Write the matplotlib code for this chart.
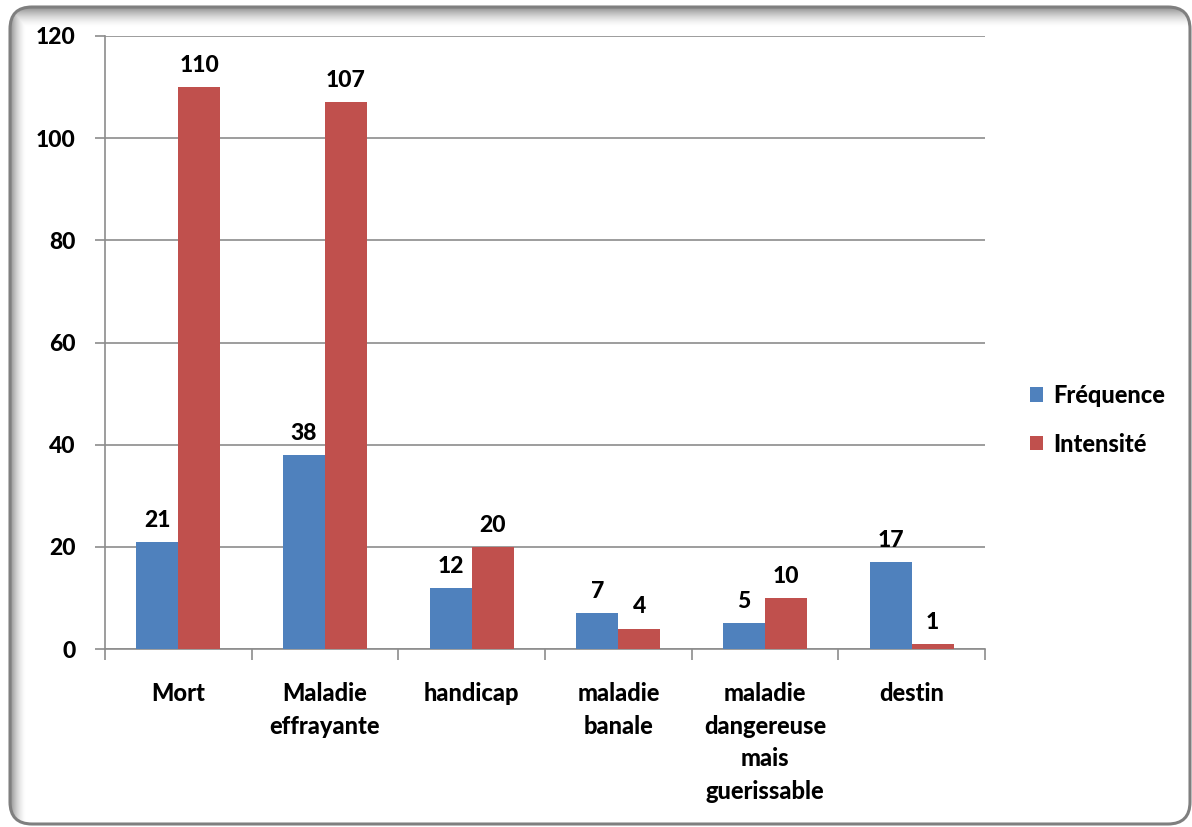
import numpy as np
import matplotlib.pyplot as plt
from matplotlib import font_manager
from matplotlib.patches import FancyBboxPatch

# heaviest available Lato cut for all chart text
lato_files = {f.fname.split("/")[-1].lower(): f.fname
              for f in font_manager.fontManager.ttflist}
bold_path = None
for name in ("lato-heavy.ttf", "lato-black.ttf", "lato-bold.ttf"):
    if name in lato_files:
        bold_path = lato_files[name]
        break


def bold_font(size):
    if bold_path:
        return font_manager.FontProperties(fname=bold_path, size=size)
    return font_manager.FontProperties(family="DejaVu Sans", weight="bold", size=size)


categories = ["Mort", "Maladie\neffrayante", "handicap", "maladie\nbanale",
              "maladie\ndangereuse\nmais\nguerissable", "destin"]
frequence = [21, 38, 12, 7, 5, 17]
intensite = [110, 107, 20, 4, 10, 1]
series_names = ["Fréquence", "Intensité"]
yticks = [0, 20, 40, 60, 80, 100, 120]

BLUE = "#4F81BD"
RED = "#C0504D"
GRID = "#8C8C8C"

W, H = 1192, 827
fig = plt.figure(figsize=(W / 100, H / 100), dpi=100)

# rounded frame with an inner shadow along the top and left edges
bg = fig.add_axes([0, 0, 1, 1], zorder=0)
x0, y0, x1, y1, rad = 10, 7, 1190, 824, 22
xx, yy = np.meshgrid(np.arange(W) + 0.5, np.arange(H) + 0.5)
# signed distance to the rounded rectangle (<= 0 inside)
qx = np.abs(xx - (x0 + x1) / 2) - ((x1 - x0) / 2 - rad)
qy = np.abs(yy - (y0 + y1) / 2) - ((y1 - y0) / 2 - rad)
sdist = np.hypot(np.maximum(qx, 0), np.maximum(qy, 0)) + np.minimum(np.maximum(qx, qy), 0) - rad
inside = np.clip(0.5 - sdist, 0, 1)
near_top = np.clip(1 - (yy - y0) / 20.0, 0, 1) ** 1.6
near_left = np.clip(1 - (xx - x0) / 16.0, 0, 1) ** 1.6
shade = np.maximum(near_top, near_left) * 0.75
rgba = np.ones((H, W, 4))
rgba[..., :3] = 1.0 - shade[..., None] * 0.6
rgba[..., 3] = inside
bg.imshow(rgba, extent=(0, W, H, 0), interpolation="bilinear", zorder=1)
bg.add_patch(FancyBboxPatch((x0, y0), x1 - x0, y1 - y0,
                            boxstyle=f"round,pad=0,rounding_size={rad}",
                            facecolor="none", edgecolor="#7F7F7F",
                            linewidth=2.2, zorder=3))
bg.set_xlim(0, W)
bg.set_ylim(H, 0)
bg.axis("off")

ax = fig.add_axes([105 / W, 1 - 649 / H, 880 / W, 613 / H], zorder=1)
ax.set_facecolor("none")

x = np.arange(len(categories))
bw = 0.286
b1 = ax.bar(x - bw / 2, frequence, bw, color=BLUE, label=series_names[0], zorder=3)
b2 = ax.bar(x + bw / 2, intensite, bw, color=RED, label=series_names[1], zorder=3)

for bars, vals in ((b1, frequence), (b2, intensite)):
    for rect, v in zip(bars, vals):
        ax.annotate(str(v), (rect.get_x() + rect.get_width() / 2, v),
                    xytext=(0, 8), textcoords="offset points",
                    ha="center", va="bottom", fontproperties=bold_font(16.5))

ax.set_xlim(-0.5, len(categories) - 0.5)
ax.set_ylim(0, 120)
ax.set_yticks(yticks)
ax.set_yticklabels([str(t) for t in yticks], fontproperties=bold_font(16.5))
ax.yaxis.grid(True, color=GRID, linewidth=1.2, zorder=0)
ax.set_axisbelow(True)

ax.set_xticks(x)
ax.set_xticklabels(categories, linespacing=1.5, fontproperties=bold_font(17))
ax.set_xticks(np.arange(len(categories) + 1) - 0.5, minor=True)
ax.tick_params(axis="x", which="major", length=0, pad=24)
ax.tick_params(axis="x", which="minor", length=8, width=1.2, color=GRID)
ax.tick_params(axis="y", length=7, width=1.2, color=GRID, pad=14)

for side in ("top", "right"):
    ax.spines[side].set_visible(False)
for side in ("left", "bottom"):
    ax.spines[side].set_color(GRID)
    ax.spines[side].set_linewidth(1.2)

ax.legend(loc="center left", bbox_to_anchor=(1.027, 0.374), frameon=False,
          prop=bold_font(17), handlelength=0.55, handleheight=0.55,
          handletextpad=0.45, labelspacing=1.1)

fig.savefig("out.png", dpi=100)
